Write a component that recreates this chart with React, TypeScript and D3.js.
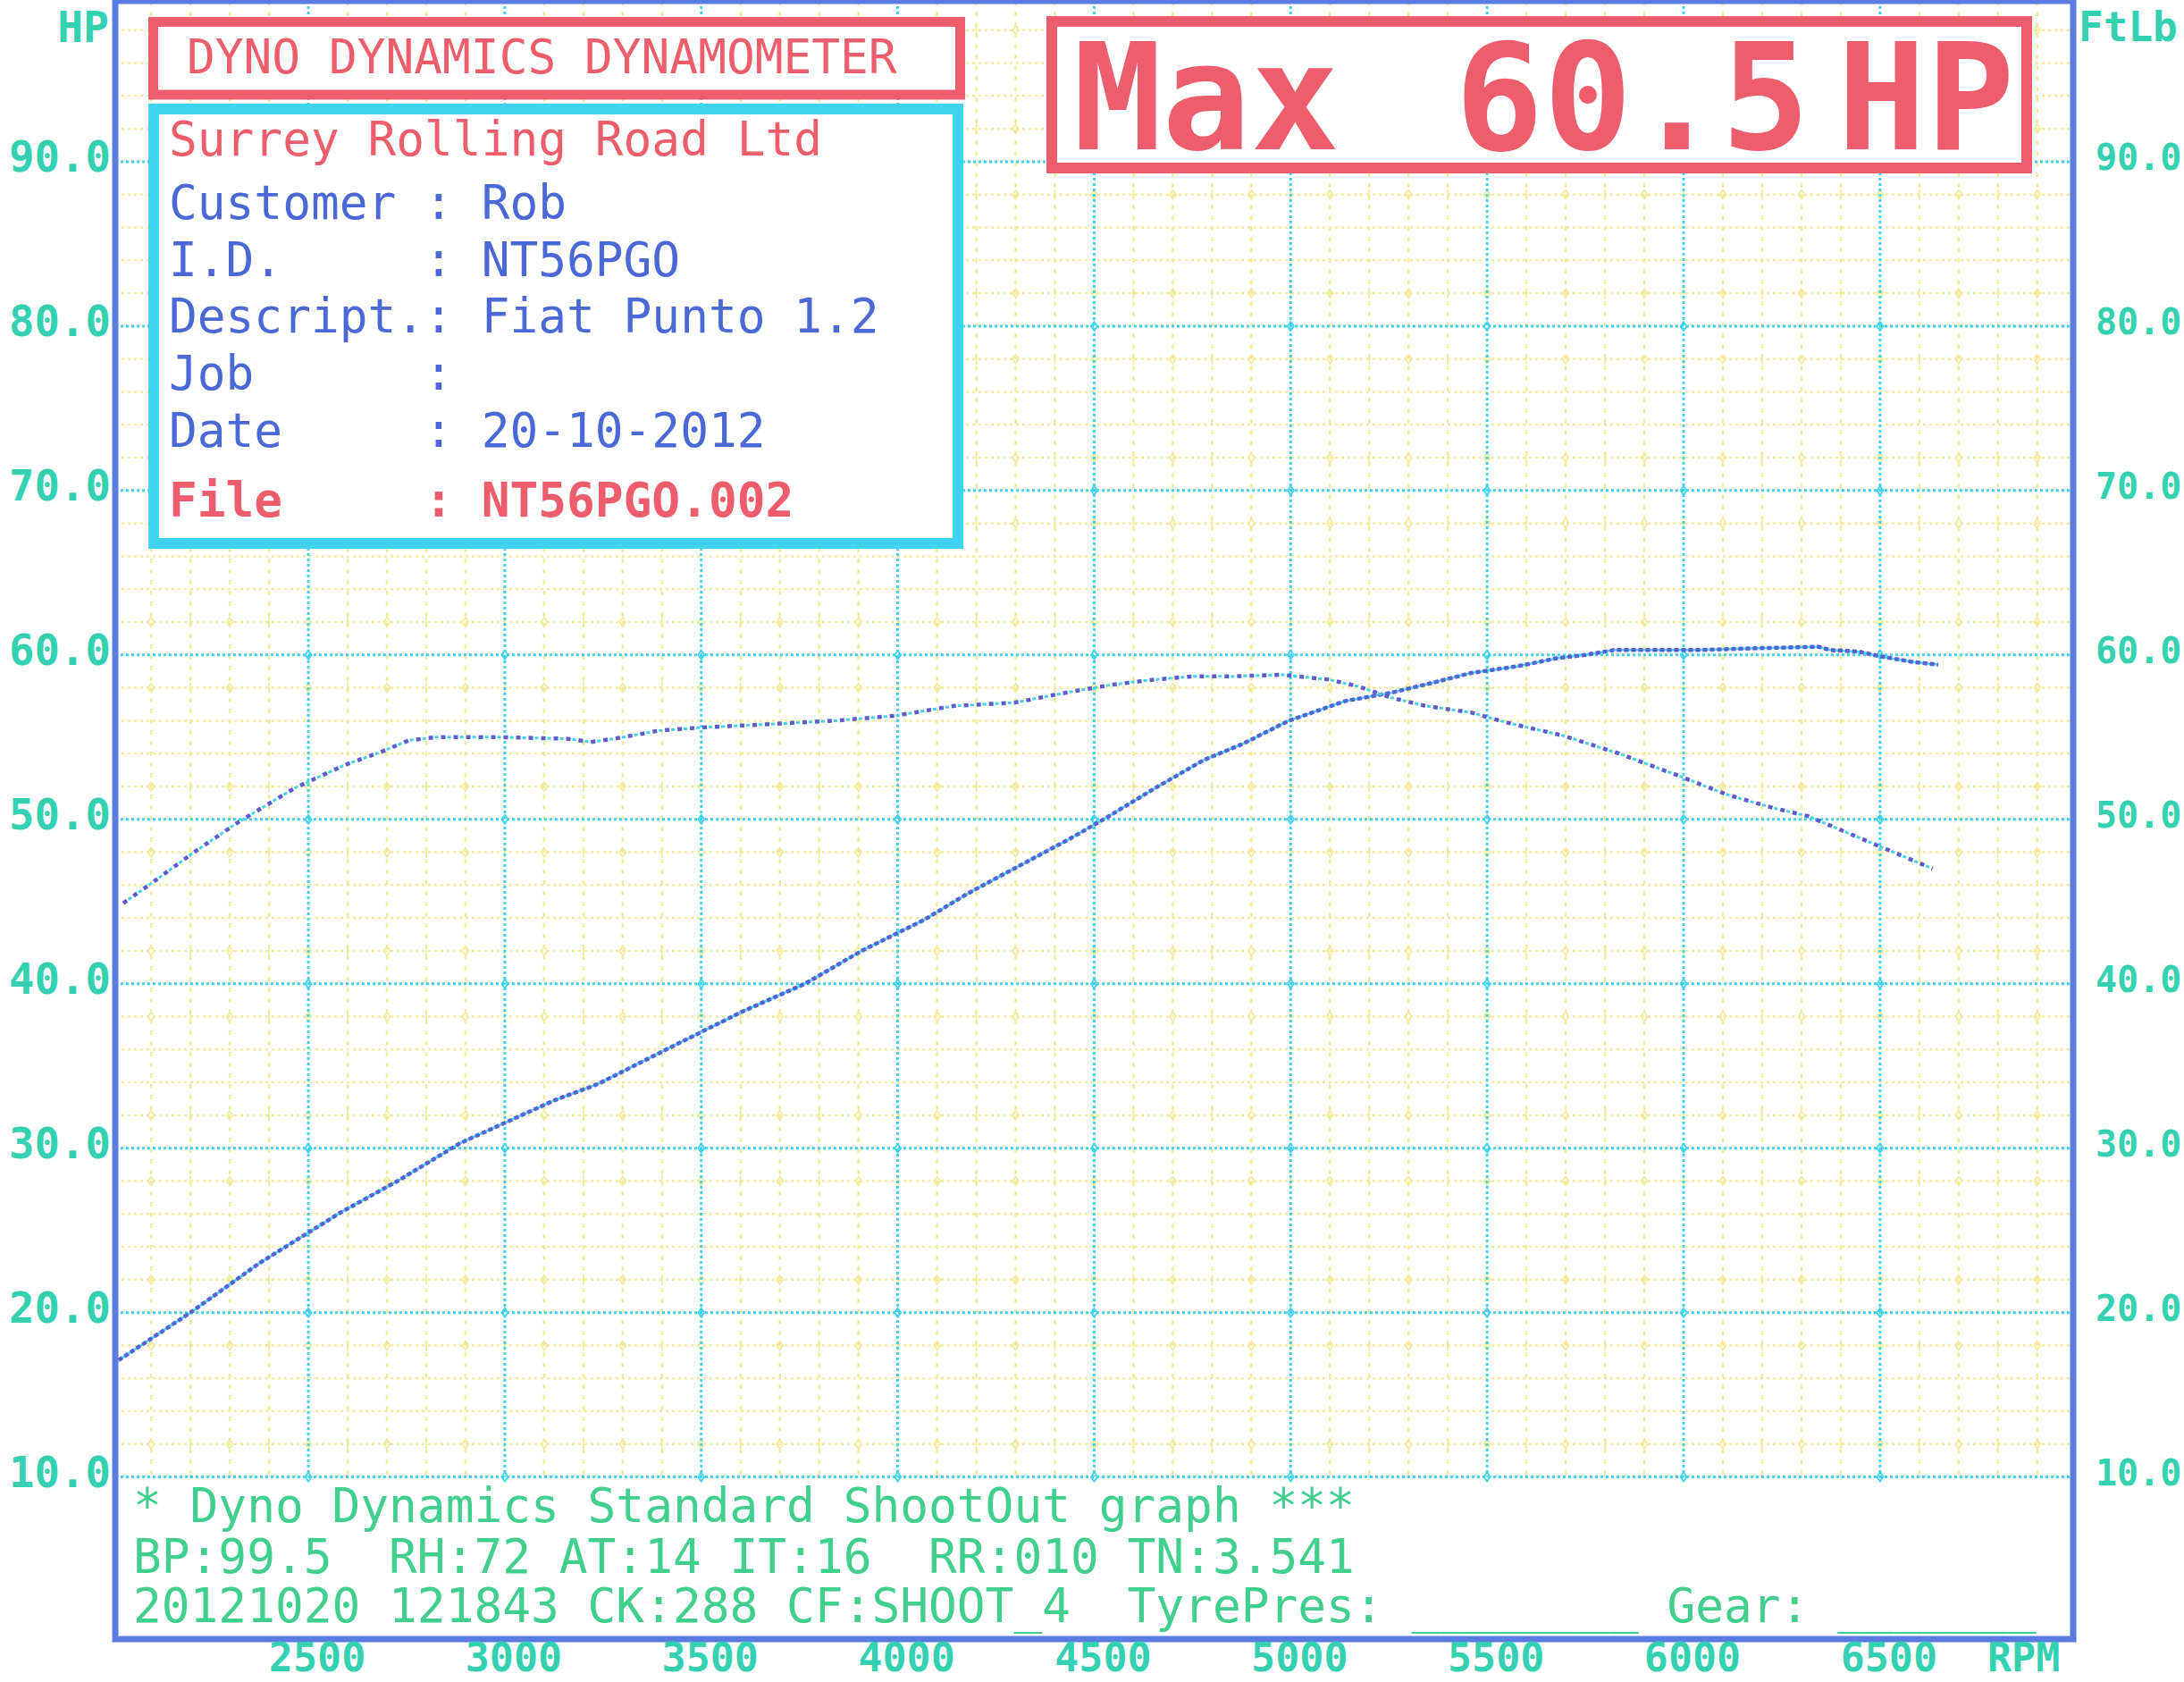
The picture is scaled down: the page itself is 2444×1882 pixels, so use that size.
import React from "react";
import * as d3 from "d3";

// ---------- data ----------
const powerRpm = [2017, 2200, 2375, 2583, 2727, 2886, 3125, 3237, 3444, 3604, 3764, 3908, 4068, 4179, 4444, 4531, 4662, 4778, 4879, 4995, 5140, 5256, 5343, 5459, 5575, 5677, 5750, 5823, 6040, 6171, 6343, 6373, 6446, 6504, 6577, 6648];
const powerHp = [17.1, 20.0, 23.0, 26.1, 28.0, 30.3, 32.9, 33.9, 36.4, 38.3, 40.0, 42.0, 43.9, 45.5, 48.9, 50.1, 52.0, 53.6, 54.6, 56.0, 57.2, 57.7, 58.2, 58.9, 59.3, 59.8, 60.0, 60.3, 60.3, 60.4, 60.5, 60.3, 60.2, 59.9, 59.6, 59.4];

const torqueRpm = [2029, 2100, 2209, 2320, 2465, 2592, 2685, 2755, 2825, 2987, 3161, 3219, 3277, 3393, 3509, 3683, 3839, 3992, 4144, 4297, 4449, 4549, 4652, 4753, 4854, 4977, 5098, 5170, 5256, 5343, 5459, 5548, 5692, 5836, 5982, 6111, 6227, 6316, 6475, 6634];
const torqueFtLb = [44.9, 46.1, 48.0, 49.8, 51.9, 53.3, 54.1, 54.8, 55.0, 55.0, 54.9, 54.7, 54.9, 55.4, 55.6, 55.8, 56.0, 56.3, 56.9, 57.1, 57.8, 58.2, 58.5, 58.7, 58.7, 58.8, 58.5, 58.1, 57.4, 56.9, 56.5, 55.9, 55.1, 54.0, 52.7, 51.5, 50.7, 50.2, 48.6, 47.0];

const rpmTicks = [2500, 3000, 3500, 4000, 4500, 5000, 5500, 6000, 6500];
const valueTicks = [10, 20, 30, 40, 50, 60, 70, 80, 90];
const valueTickLabels = ["10.0", "20.0", "30.0", "40.0", "50.0", "60.0", "70.0", "80.0", "90.0"];

const titleText = "DYNO DYNAMICS DYNAMOMETER";
const companyText = "Surrey Rolling Road Ltd";
const infoLines = [
  "Customer : Rob",
  "I.D.     : NT56PGO",
  "Descript.: Fiat Punto 1.2",
  "Job      :",
  "Date     : 20-10-2012",
];
const fileLine = "File     : NT56PGO.002";
const maxParts = ["Max", "60.5", "HP"];
const footerLines = [
  "* Dyno Dynamics Standard ShootOut graph ***",
  "BP:99.5  RH:72 AT:14 IT:16  RR:010 TN:3.541",
  "20121020 121843 CK:288 CF:SHOOT_4  TyrePres: ________ Gear: _______",
];

// ---------- colours ----------
const RED = "#ee5d6c";
const CYAN = "#3fd3ef";
const YELLOW = "#f1eb9c";
const BLUE_TEXT = "#4b69d6";
const TEAL = "#33d1b1";
const GREEN = "#40cf8c";
const FRAME = "#5a7ce2";
const MONO = "'DejaVu Sans Mono', 'Liberation Mono', monospace";

export default function App() {
  const W = 2444;
  const H = 1882;
  const x = d3.scaleLinear().domain([2000, 7000]).range([125.2, 2323.7]);
  const y = d3.scaleLinear().domain([10, 100]).range([1652.6, -3]);

  const frameL = 129;
  const frameR = 2320;
  const frameT = 1;
  const frameB = 1834;
  const gridBottom = y(10);

  const minorRpm = d3.range(2100, 7000, 100).filter((r) => r % 500 !== 0);
  const minorVal = d3.range(12, 100, 2).filter((v) => v % 10 !== 0);
  const markerRows = minorVal.filter((v) => v % 10 === 2 || v % 10 === 8);
  const allHundreds = d3.range(2100, 7000, 100);

  const lineGen = d3
    .line<[number, number]>()
    .x((d) => x(d[0]))
    .y((d) => y(d[1]));
  const powerPath = lineGen(powerRpm.map((r, i) => [r, powerHp[i]] as [number, number])) || "";
  const torquePath = lineGen(torqueRpm.map((r, i) => [r, torqueFtLb[i]] as [number, number])) || "";

  const diamond = (cx: number, cy: number) =>
    `M${cx},${cy - 5}L${cx + 3.5},${cy}L${cx},${cy + 5}L${cx - 3.5},${cy}Z`;

  return (
    <svg
      width={W}
      height={H}
      viewBox={`0 0 ${W} ${H}`}
      style={{ position: "absolute", left: 0, top: 0, background: "#ffffff" }}
    >
      <rect x={0} y={0} width={W} height={H} fill="#ffffff" />

      {/* minor yellow verticals */}
      <g stroke={YELLOW} strokeWidth={2.5} strokeDasharray="5 7">
        {minorRpm.map((r) => (
          <line key={"yv" + r} x1={x(r)} x2={x(r)} y1={frameT} y2={gridBottom} />
        ))}
      </g>
      {/* minor yellow horizontals */}
      <g stroke={YELLOW} strokeWidth={2.5} strokeDasharray="3 4">
        {minorVal.map((v) => (
          <line key={"yh" + v} x1={frameL} x2={frameR} y1={y(v)} y2={y(v)} />
        ))}
      </g>
      {/* markers on yellow rows */}
      <g stroke={YELLOW} strokeWidth={1.8} fill="none">
        {markerRows.map((v) =>
          allHundreds.map((r) =>
            (r / 100) % 2 === 1 ? (
              <path key={"d" + v + "-" + r} d={diamond(x(r), y(v))} />
            ) : (
              <line key={"t" + v + "-" + r} x1={x(r)} x2={x(r)} y1={y(v) - 6} y2={y(v) + 6} />
            )
          )
        )}
      </g>
      {/* major cyan grid */}
      <g stroke={CYAN} strokeWidth={3} strokeDasharray="3 3">
        {rpmTicks.map((r) => (
          <line key={"cv" + r} x1={x(r)} x2={x(r)} y1={frameT} y2={gridBottom} />
        ))}
        {valueTicks.map((v) => (
          <line key={"ch" + v} x1={frameL} x2={frameR} y1={y(v)} y2={y(v)} />
        ))}
      </g>
      <g stroke={CYAN} strokeWidth={1.8} fill="none">
        {valueTicks.map((v) =>
          rpmTicks.map((r) => <path key={"cd" + v + "-" + r} d={diamond(x(r), y(v))} />)
        )}
      </g>

      {/* title box */}
      <rect x={171.5} y={24.5} width={903} height={81.5} fill="#ffffff" stroke={RED} strokeWidth={11} />
      <text x={209} y={81.6} fill={RED} fontFamily={MONO} fontSize={52.8} style={{ whiteSpace: "pre" }}>
        {titleText}
      </text>

      {/* info box */}
      <rect x={172} y={122} width={900} height={486} fill="#ffffff" stroke={CYAN} strokeWidth={12} />
      <text x={189} y={173.5} fill={RED} fontFamily={MONO} fontSize={52.8} style={{ whiteSpace: "pre" }}>
        {companyText}
      </text>
      {infoLines.map((t, i) => (
        <text
          key={"info" + i}
          x={189}
          y={245 + i * 63.7}
          fill={BLUE_TEXT}
          fontFamily={MONO}
          fontSize={52.8}
          style={{ whiteSpace: "pre" }}
        >
          {t}
        </text>
      ))}
      <text x={189} y={577.6} fill={RED} fontFamily={MONO} fontSize={52.8} fontWeight="bold" style={{ whiteSpace: "pre" }}>
        {fileLine}
      </text>

      {/* max box */}
      <rect x={1177} y={24} width={1091} height={164} fill="#ffffff" stroke={RED} strokeWidth={12} />
      <text x={1201} y={166.7} fill={RED} fontFamily={MONO} fontWeight="bold" fontSize={165}>
        {maxParts[0]}
      </text>
      <text x={1628} y={166.7} fill={RED} fontFamily={MONO} fontWeight="bold" fontSize={165}>
        {maxParts[1]}
      </text>
      <text x={2056} y={166.7} fill={RED} fontFamily={MONO} fontWeight="bold" fontSize={165}>
        {maxParts[2]}
      </text>

      {/* curves */}
      <path d={powerPath} fill="none" stroke={CYAN} strokeWidth={2.5} />
      <path d={powerPath} fill="none" stroke="#5a5fd4" strokeWidth={4.5} strokeDasharray="5 3" />
      <path d={torquePath} fill="none" stroke={CYAN} strokeWidth={3} strokeDasharray="4 10" strokeDashoffset={-7} />
      <path d={torquePath} fill="none" stroke="#5d5ccc" strokeWidth={4.5} strokeDasharray="5 9" />

      {/* frame */}
      <rect x={frameL} y={frameT} width={frameR - frameL} height={frameB - frameT} fill="none" stroke={FRAME} strokeWidth={7} />

      {/* axis labels */}
      <g fill={TEAL} fontFamily={MONO} fontWeight="bold" fontSize={47.3}>
        {valueTicks.map((v, i) => (
          <text key={"ll" + v} x={124} y={y(v) + 11} textAnchor="end">
            {valueTickLabels[i]}
          </text>
        ))}
      </g>
      <g fill={TEAL} fontFamily={MONO} fontWeight="bold" fontSize={40}>
        {valueTicks.map((v, i) => (
          <text key={"rl" + v} x={2345} y={y(v) + 9} textAnchor="start">
            {valueTickLabels[i]}
          </text>
        ))}
      </g>
      <text x={122} y={47} textAnchor="end" fill={TEAL} fontFamily={MONO} fontWeight="bold" fontSize={48}>
        HP
      </text>
      <text x={2326} y={46} fill={TEAL} fontFamily={MONO} fontWeight="bold" fontSize={46}>
        FtLb
      </text>
      <g fill={TEAL} fontFamily={MONO} fontWeight="bold" fontSize={45}>
        {rpmTicks.map((r) => (
          <text key={"xl" + r} x={x(r) + 10} y={1870} textAnchor="middle">
            {String(r)}
          </text>
        ))}
        <text x={2224} y={1870}>RPM</text>
      </g>

      {/* footer */}
      {footerLines.map((t, i) => (
        <text
          key={"ft" + i}
          x={149}
          y={[1703.3, 1760, 1815][i]}
          fill={GREEN}
          fontFamily={MONO}
          fontSize={52.8}
          style={{ whiteSpace: "pre" }}
        >
          {t}
        </text>
      ))}
    </svg>
  );
}
